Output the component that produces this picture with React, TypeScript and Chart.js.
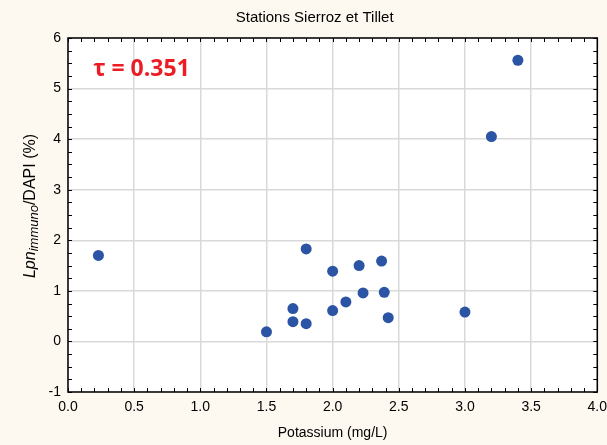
import React, { useEffect, useRef } from "react";
import { Chart, registerables } from "chart.js";

Chart.register(...registerables);

const potassium = [0.23, 1.5, 1.7, 1.7, 1.8, 1.8, 2.0, 2.0, 2.1, 2.2, 2.23, 2.37, 2.39, 2.42, 3.0, 3.2, 3.4];
const lpnRatio = [1.7, 0.19, 0.65, 0.39, 1.83, 0.35, 1.39, 0.61, 0.78, 1.5, 0.96, 1.59, 0.97, 0.47, 0.58, 4.05, 5.56];

const titleText = "Stations Sierroz et Tillet";
const xTitle = "Potassium (mg/L)";
const yTitleParts = ["Lpn", "immuno", "/DAPI (%)"];
const tauLabel = "\u03c4 = 0.351";
const tauPos = { x: 0.19, y: 5.24 };

const X_MIN = 0, X_MAX = 4, X_STEP = 0.5, X_MINOR = 0.1;
const Y_MIN = -1, Y_MAX = 6, Y_STEP = 1, Y_MINOR = 0.25;

const FONT = "'Liberation Sans', Arial, sans-serif";

const decorPlugin = {
  id: "decor",
  beforeDraw(chart: any) {
    const { ctx, chartArea: a, width, height } = chart;
    ctx.save();
    ctx.fillStyle = "#fdf9f0";
    ctx.fillRect(0, 0, width, height);
    ctx.fillStyle = "#ffffff";
    ctx.fillRect(a.left, a.top, a.right - a.left, a.bottom - a.top);
    ctx.restore();
  },
  beforeDatasetsDraw(chart: any) {
    const { ctx, chartArea: a, scales } = chart;
    const xs = scales.x, ys = scales.y;
    ctx.save();
    ctx.strokeStyle = "#000";
    ctx.lineWidth = 1;
    const tl = 4;
    ctx.beginPath();
    const nx = Math.round((X_MAX - X_MIN) / X_MINOR);
    for (let i = 0; i <= nx; i++) {
      const px = Math.round(xs.getPixelForValue(X_MIN + i * X_MINOR)) + 0.5;
      ctx.moveTo(px, a.bottom);
      ctx.lineTo(px, a.bottom - tl);
      ctx.moveTo(px, a.top);
      ctx.lineTo(px, a.top + tl);
    }
    const ny = Math.round((Y_MAX - Y_MIN) / Y_MINOR);
    for (let i = 0; i <= ny; i++) {
      const py = Math.round(ys.getPixelForValue(Y_MIN + i * Y_MINOR)) + 0.5;
      ctx.moveTo(a.left, py);
      ctx.lineTo(a.left + tl, py);
      ctx.moveTo(a.right, py);
      ctx.lineTo(a.right - tl, py);
    }
    ctx.stroke();
    ctx.lineWidth = 1.5;
    ctx.strokeRect(a.left, a.top, a.right - a.left, a.bottom - a.top);
    ctx.restore();
  },
  afterDraw(chart: any) {
    const { ctx, chartArea: a, scales } = chart;
    ctx.save();
    // main title
    ctx.fillStyle = "#000";
    ctx.font = `15px ${FONT}`;
    ctx.textAlign = "center";
    ctx.textBaseline = "middle";
    ctx.fillText(titleText, (a.left + a.right) / 2 - 18, a.top / 2 - 1);

    // y-axis title with subscript
    const mainFont = `italic 16px ${FONT}`;
    const subFont = `italic 13px ${FONT}`;
    const restFont = `16px ${FONT}`;
    ctx.font = mainFont;
    const w1 = ctx.measureText(yTitleParts[0]).width;
    ctx.font = subFont;
    const w2 = ctx.measureText(yTitleParts[1]).width;
    ctx.font = restFont;
    const w3 = ctx.measureText(yTitleParts[2]).width;
    const total = w1 + w2 + w3;
    const cy = (a.top + a.bottom) / 2 - 9;
    ctx.translate(a.left - 33, cy);
    ctx.rotate(-Math.PI / 2);
    ctx.textAlign = "left";
    ctx.textBaseline = "alphabetic";
    const x0 = -total / 2;
    ctx.font = mainFont;
    ctx.fillText(yTitleParts[0], x0, 0);
    ctx.font = subFont;
    ctx.fillText(yTitleParts[1], x0 + w1, 3);
    ctx.font = restFont;
    ctx.fillText(yTitleParts[2], x0 + w1 + w2, 0);
    ctx.setTransform(1, 0, 0, 1, 0, 0);
    ctx.restore();

    // tau annotation
    ctx.save();
    ctx.fillStyle = "#ed1c24";
    ctx.font = `bold 23px 'Open Sans', sans-serif`;
    ctx.textAlign = "left";
    ctx.textBaseline = "alphabetic";
    ctx.fillText(tauLabel, scales.x.getPixelForValue(tauPos.x), scales.y.getPixelForValue(tauPos.y));
    ctx.restore();
  },
};

export default function App() {
  const ref = useRef<HTMLCanvasElement | null>(null);
  useEffect(() => {
    document.body.style.margin = "0";
    const canvas = ref.current!;
    const chart = new Chart(canvas, {
      type: "scatter",
      data: {
        datasets: [
          {
            data: potassium.map((x, i) => ({ x, y: lpnRatio[i] })),
            backgroundColor: "#2b54a4",
            borderColor: "#2b54a4",
            pointRadius: 5.5,
            pointHoverRadius: 5.5,
            borderWidth: 0,
          },
        ],
      },
      options: {
        responsive: false,
        animation: false,
        events: [],
        layout: { padding: { top: 38, right: 9, left: 0, bottom: 0 } },
        plugins: {
          legend: { display: false },
          tooltip: { enabled: false },
          title: { display: false },
        },
        scales: {
          x: {
            type: "linear",
            min: X_MIN,
            max: X_MAX,
            afterFit: (s: any) => {
              s.height = 53;
            },
            ticks: {
              stepSize: X_STEP,
              padding: 0,
              color: "#000",
              font: { family: FONT, size: 14 },
              callback: (v: any) => Number(v).toFixed(1),
            },
            grid: {
              color: "#d9d9d9",
              lineWidth: 1.5,
              drawTicks: true,
              tickLength: 7,
              tickColor: "rgba(0,0,0,0)",
            },
            border: { display: false },
            title: {
              display: true,
              text: xTitle,
              color: "#000",
              font: { family: FONT, size: 14 },
              padding: { top: 0, bottom: 3 },
            },
          },
          y: {
            type: "linear",
            min: Y_MIN,
            max: Y_MAX,
            afterFit: (s: any) => {
              s.width = 68;
            },
            ticks: {
              stepSize: Y_STEP,
              padding: 7,
              color: "#000",
              font: { family: FONT, size: 14 },
            },
            grid: { color: "#d9d9d9", lineWidth: 1.5, drawTicks: false },
            border: { display: false },
          },
        },
      },
      plugins: [decorPlugin],
    });
    return () => chart.destroy();
  }, []);
  return (
    <div style={{ width: 607, height: 445 }}>
      <canvas ref={ref} width={607} height={445} style={{ display: "block" }} />
    </div>
  );
}
